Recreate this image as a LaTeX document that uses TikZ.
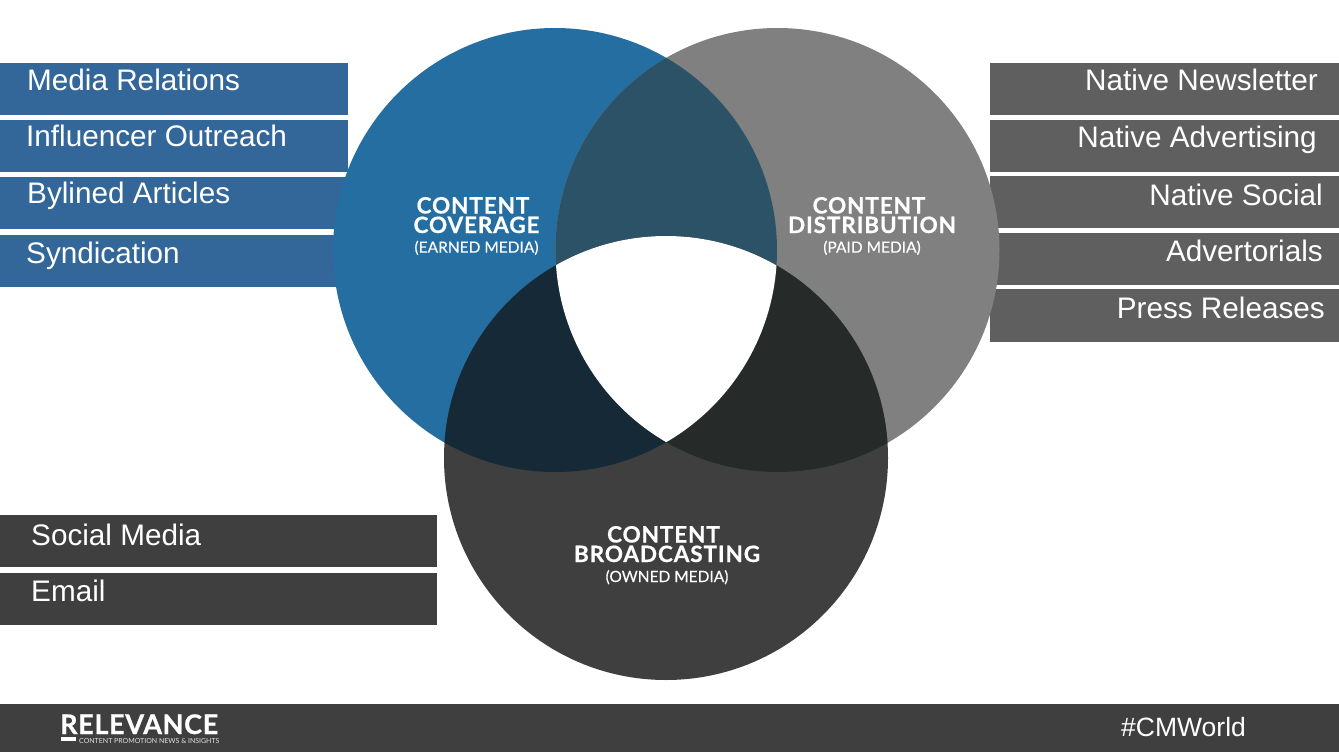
\documentclass[tikz,border=0pt]{standalone}
\usepackage{fontspec}
\setmainfont{Liberation Sans}
\newfontfamily\venn{Lato}
\newfontfamily\venntitle[LetterSpace=4,FakeBold=0.7]{Lato Bold}
\newfontfamily\vennlogo[LetterSpace=2.5,FakeBold=0.8]{Lato Bold}
\newfontfamily\vennsub[FakeBold=0.25]{Lato}
\definecolor{cblue}{HTML}{256EA2}
\definecolor{cgray}{HTML}{808080}
\definecolor{cdark}{HTML}{3F3F3F}
\definecolor{ovbg}{HTML}{2C5267}
\definecolor{ovbd}{HTML}{162936}
\definecolor{ovgd}{HTML}{262B29}
\definecolor{bblue}{HTML}{336699}
\definecolor{bgray}{HTML}{5F5F5F}
\tikzset{
  lbl/.style={text=white,font=\fontsize{29.7}{32}\selectfont,inner sep=0pt},
  lleft/.style={lbl,anchor=base west},
  lright/.style={lbl,anchor=base east},
  vtitle/.style={text=white,font=\venntitle\fontsize{22.5}{19}\selectfont,align=center,inner sep=0pt,anchor=base},
  vsub/.style={text=white,font=\vennsub\fontsize{15.5}{18}\selectfont,inner sep=0pt,anchor=base},
}
\begin{document}
\begin{tikzpicture}[x=1pt,y=-1pt]
\useasboundingbox (0,0) rectangle (1339,752);
% left boxes
\fill[bblue] (0,63) rectangle (348,115);
\fill[bblue] (0,120) rectangle (348,172);
\fill[bblue] (0,177) rectangle (348,229);
\fill[bblue] (0,235) rectangle (348,287);
% right boxes
\fill[bgray] (990,63) rectangle (1339,115);
\fill[bgray] (990,120) rectangle (1339,172);
\fill[bgray] (990,176) rectangle (1339,228);
\fill[bgray] (990,233) rectangle (1339,285);
\fill[bgray] (990,289) rectangle (1339,342);
% bottom-left boxes
\fill[cdark] (0,515) rectangle (437,567);
\fill[cdark] (0,573) rectangle (437,625);
% footer
\fill[cdark] (0,704) rectangle (1339,752);
% circles
\fill[cblue] (555,250) circle[radius=222];
\fill[cgray] (777.5,250) circle[radius=222];
\fill[cdark] (666,458) circle[radius=222];
\begin{scope}
  \clip (555,250) circle[radius=222];
  \fill[ovbg] (777.5,250) circle[radius=222];
  \fill[ovbd] (666,458) circle[radius=222];
\end{scope}
\begin{scope}
  \clip (777.5,250) circle[radius=222];
  \fill[ovgd] (666,458) circle[radius=222];
\end{scope}
\begin{scope}
  \clip (555,250) circle[radius=222];
  \clip (777.5,250) circle[radius=222];
  \fill[white] (666,458) circle[radius=222];
\end{scope}
% list labels
\node[lleft] (a1) at (27,90) {Media Relations};
\node[lleft] (a2) at (26,146) {Influencer Outreach};
\node[lleft] (a3) at (27,203.5) {Bylined Articles};
\node[lleft] (a4) at (26,263.5) {Syndication};
\node[lright] (b1) at (1318,90.5) {Native Newsletter};
\node[lright] (b2) at (1317,147.5) {Native Advertising};
\node[lright] (b3) at (1323,205) {Native Social};
\node[lright] (b4) at (1323,261) {Advertorials};
\node[lright] (b5) at (1325,318) {Press Releases};
\node[lleft] (c1) at (31,545) {Social Media};
\node[lleft] (c2) at (31,601) {Email};
% venn labels
\node[vtitle] (t1a) at (473,213.5) {CONTENT};
\node[vtitle] (t1b) at (476.5,233) {COVERAGE};
\node[vsub] (t1c) at (476.5,252.7) {(EARNED MEDIA)};
\node[vtitle] (t2a) at (869,213.5) {CONTENT};
\node[vtitle] (t2b) at (872,233) {DISTRIBUTION};
\node[vsub] (t2c) at (872,252.7) {(PAID MEDIA)};
\node[vtitle] (t3a) at (663.5,542.5) {CONTENT};
\node[vtitle] (t3b) at (667,562) {BROADCASTING};
\node[vsub] (t3c) at (667,582) {(OWNED MEDIA)};
% footer content
\node[text=white,font=\vennlogo\fontsize{27}{30}\selectfont,inner sep=0pt,anchor=base west] (logo) at (60,734) {RELEVANCE};
\fill[white] (61,737.3) rectangle (76,741);
\node[text=white!85!cdark,font=\venn\fontsize{7}{8}\selectfont,inner sep=0pt,anchor=base west] (tag) at (79,743) {CONTENT PROMOTION NEWS \& INSIGHTS};
\node[text=white,font=\fontsize{26.5}{28}\selectfont,inner sep=0pt,anchor=base west] (tagh) at (1121,736) {\#CMWorld};
\end{tikzpicture}
\end{document}
